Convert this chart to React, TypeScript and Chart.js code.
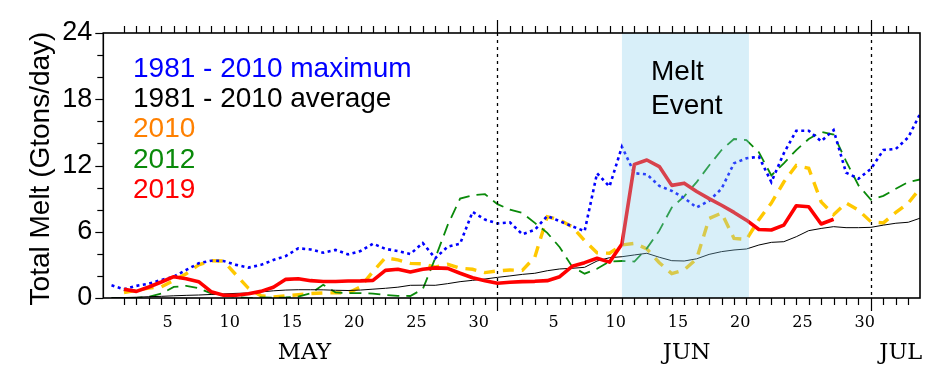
import React, { useEffect, useRef } from "react";
import { Chart, registerables } from "chart.js";

Chart.register(...registerables);

// x value of the first array entry (day index; 0 = first plotted day of May)
const X_START = -1;
const X_MIN = -1.66;
const X_MAX = 63.94;

// 1981-2010 maximum
const max8110 = [
  1.15, 0.79, 1.1, 1.3, 1.63, 1.93, 2.54, 3.14, 3.38, 3.35, 3.0, 2.75, 3.0, 3.44, 3.8, 4.5,
  4.4, 4.1, 4.35, 3.95, 4.25, 4.92, 4.45, 4.25, 3.98, 4.98, 3.6, 4.65, 4.92, 7.8, 7.1, 6.75,
  6.85, 5.77, 6.18, 7.43, 6.95, 6.5, 6.05, 11.3, 10.1, 13.7, 11.3, 11.2, 10.15, 9.7, 9.05, 8.2,
  8.8, 9.9, 12.2, 12.65, 12.8, 10.5, 13.1, 15.15, 15.15, 14.2, 15.2, 11.35, 10.8, 11.7, 13.4,
  13.5, 14.55, 16.8,
];

// 1981-2010 average
const avg8110 = [
  0.02, 0.04, 0.07, 0.12, 0.15, 0.2, 0.24, 0.27, 0.32, 0.37, 0.42, 0.45, 0.55, 0.65, 0.72, 0.75,
  0.75, 0.74, 0.7, 0.68, 0.72, 0.8, 0.88, 0.98, 1.15, 1.16, 1.15, 1.3, 1.48, 1.6, 1.72, 1.87,
  2.0, 2.14, 2.24, 2.47, 2.63, 2.69, 2.78, 3.35, 3.65, 3.74, 3.9, 4.05, 3.69, 3.38, 3.35, 3.55,
  3.95, 4.2, 4.35, 4.44, 4.8, 5.04, 5.1, 5.55, 6.1, 6.3, 6.46, 6.37, 6.37, 6.4, 6.6, 6.77,
  6.86, 7.25,
];

// 2010
const melt2010 = [
  null, 0.5, 0.7, 0.9, 1.0, 1.6, 2.2, 3.0, 3.38, 3.35, 2.1, 0.88, 0.2, 0.1, 0.2, 0.3,
  0.4, 0.45, 0.48, 0.45, 1.0, 2.4, 3.65, 3.45, 3.14, 3.1, 2.8, 3.05, 2.7, 2.6, 2.3, 2.45,
  2.54, 2.5, 3.7, 7.36, 7.07, 6.46, 5.2, 4.1, 4.05, 4.8, 4.95, 4.45, 3.2, 2.2, 2.55, 3.55,
  7.2, 7.7, 5.4, 5.3, 7.1, 8.6, 10.5, 12.0, 11.75, 8.7, 7.55, 8.6, 7.95, 6.9, 6.8, 7.75,
  8.6, 10.0,
];

// 2012
const melt2012 = [
  0, 0, 0, 0.1, 0.4, 1.0, 1.1, 0.88, 0.42, 0.25, 0.1, 0, 0.05, 0.03, 0.05, 0.12,
  0.42, 1.2, 0.5, 0.45, 0.45, 0.4, 0.27, 0.2, 0.18, 0.8, 3.6, 6.6, 9.0, 9.3, 9.4, 8.5,
  8.0, 7.7, 6.8, 5.9, 4.6, 2.84, 2.2, 2.65, 3.3, 3.35, 3.3, 4.5, 6.1, 8.2, 9.2, 10.5,
  12.0, 13.4, 14.4, 14.3, 13.2, 11.1, 12.2, 13.4, 14.4, 15.05, 14.8, 12.4, 10.2, 8.9, 9.25, 9.9,
  10.5, 10.75,
];

// 2019
const melt2019 = [
  null, 0.79, 0.6, 1.0, 1.45, 1.93, 1.75, 1.48, 0.57, 0.25, 0.25, 0.38, 0.6, 0.98, 1.69, 1.75,
  1.57, 1.5, 1.5, 1.54, 1.55, 1.6, 2.5, 2.6, 2.35, 2.6, 2.73, 2.68, 2.24, 1.84, 1.57, 1.33,
  1.42, 1.48, 1.51, 1.57, 1.93, 2.87, 3.2, 3.6, 3.25, 4.9, 12.1, 12.5, 11.9, 10.2, 10.4, 9.65,
  9.0, 8.4, 7.75, 7.05, 6.2, 6.16, 6.6, 8.36, 8.27, 6.7, 7.13, null, null, null, null, null,
  null, null,
];

const yLabelValues = [0, 6, 12, 18, 24];
const yMinorStep = 2;
const dayTickLabels = [5, 10, 15, 20, 25, 30];
const monthNames = ["MAY", "JUN", "JUL"];
const monthOffsets = [0, 31, 61];
const monthLabelCenters = [14.5, 45.2, 62.4];
const monthBoundaries = [30, 60];
const meltEventRange = [40, 50.2];
const yTitle = "Total Melt (Gtons/day)";
const legendTexts = ["1981 - 2010 maximum", "1981 - 2010 average", "2010", "2012", "2019"];
const legendColors = ["#0000ff", "#000000", "#ff8000", "#0a8a0a", "#ff0000"];

const toPts = (arr: (number | null)[]) => arr.map((v, i) => ({ x: i + X_START, y: v }));

const SANS = '"Liberation Sans", Arial, sans-serif';
const SERIF = '"DejaVu Serif", serif';

const decor = {
  id: "decor",
  afterDatasetsDraw(chart: any) {
    const { ctx, chartArea: a, scales } = chart;
    const xs = scales.x;
    const ys = scales.y;
    ctx.save();

    // melt event shading
    const sx0 = xs.getPixelForValue(meltEventRange[0]);
    const sx1 = xs.getPixelForValue(meltEventRange[1]);
    ctx.fillStyle = "rgba(135,206,235,0.32)";
    ctx.fillRect(sx0, a.top, sx1 - sx0, a.bottom - a.top);

    // month boundary dashed lines
    ctx.strokeStyle = "#000";
    ctx.lineWidth = 1.3;
    ctx.setLineDash([3, 4]);
    for (const b of monthBoundaries) {
      const px = Math.round(xs.getPixelForValue(b)) + 0.5;
      ctx.beginPath();
      ctx.moveTo(px, a.top);
      ctx.lineTo(px, a.bottom);
      ctx.stroke();
    }
    ctx.setLineDash([]);

    // frame
    ctx.lineWidth = 1.6;
    ctx.strokeRect(a.left, a.top, a.right - a.left, a.bottom - a.top);

    // x ticks
    ctx.lineWidth = 1.2;
    for (let k = 0; k <= Math.floor(X_MAX); k++) {
      const px = Math.round(xs.getPixelForValue(k)) + 0.5;
      const len = monthBoundaries.includes(k) ? 13 : 7;
      ctx.beginPath();
      ctx.moveTo(px, a.bottom);
      ctx.lineTo(px, a.bottom + len);
      ctx.moveTo(px, a.top);
      ctx.lineTo(px, a.top - len);
      ctx.stroke();
    }

    // y ticks
    for (let v = 0; v <= 24; v += yMinorStep) {
      const py = Math.round(ys.getPixelForValue(v)) + 0.5;
      const len = yLabelValues.includes(v) ? 8 : 6;
      ctx.beginPath();
      ctx.moveTo(a.left - len, py);
      ctx.lineTo(a.left, py);
      ctx.stroke();
    }

    // y labels
    ctx.fillStyle = "#000";
    ctx.font = `27px ${SANS}`;
    ctx.textAlign = "right";
    ctx.textBaseline = "middle";
    for (const v of yLabelValues) {
      ctx.fillText(String(v), a.left - 11, ys.getPixelForValue(v));
    }

    // y title
    ctx.save();
    ctx.translate(41.7, (a.top + a.bottom) / 2 + 3);
    ctx.rotate(-Math.PI / 2);
    ctx.font = `28px ${SANS}`;
    ctx.textAlign = "center";
    ctx.textBaseline = "middle";
    ctx.fillText(yTitle, 0, 0);
    ctx.restore();

    // x day labels
    ctx.font = `16px ${SERIF}`;
    ctx.textAlign = "center";
    ctx.textBaseline = "middle";
    for (let m = 0; m < 2; m++) {
      for (const d of dayTickLabels) {
        ctx.fillText(String(d), xs.getPixelForValue(monthOffsets[m] + d - 1.5), a.bottom + 25);
      }
    }

    // month names
    ctx.font = `22.5px ${SERIF}`;
    for (let m = 0; m < monthNames.length; m++) {
      ctx.fillText(monthNames[m], xs.getPixelForValue(monthLabelCenters[m]), a.bottom + 55);
    }

    // legend text
    ctx.font = `28px ${SANS}`;
    ctx.textAlign = "left";
    ctx.textBaseline = "alphabetic";
    for (let i = 0; i < legendTexts.length; i++) {
      ctx.fillStyle = legendColors[i];
      ctx.fillText(legendTexts[i], 133, 76.5 + 30.4 * i);
    }

    // melt event label
    ctx.fillStyle = "#000";
    ctx.fillText("Melt", 651, 80);
    ctx.fillText("Event", 651, 114);

    ctx.restore();
  },
};

export default function App() {
  const ref = useRef<HTMLCanvasElement | null>(null);

  useEffect(() => {
    if (!ref.current) return;
    const chart = new Chart(ref.current, {
      type: "line",
      data: {
        datasets: [
          {
            label: "2019",
            data: toPts(melt2019) as any,
            borderColor: "#ff0000",
            borderWidth: 3.6,
            borderJoinStyle: "round",
            pointRadius: 0,
            order: 0,
          },
          {
            label: "1981 - 2010 maximum",
            data: toPts(max8110) as any,
            borderColor: "#0000ff",
            borderWidth: 2.6,
            borderDash: [3, 3.5],
            pointRadius: 0,
            order: 1,
          },
          {
            label: "1981 - 2010 average",
            data: toPts(avg8110) as any,
            borderColor: "#000000",
            borderWidth: 1,
            pointRadius: 0,
            order: 2,
          },
          {
            label: "2012",
            data: toPts(melt2012) as any,
            borderColor: "#0a8a0a",
            borderWidth: 1.8,
            borderDash: [12, 7],
            pointRadius: 0,
            order: 3,
          },
          {
            label: "2010",
            data: toPts(melt2010) as any,
            borderColor: "#ffc800",
            borderWidth: 3.4,
            borderDash: [11, 8],
            pointRadius: 0,
            order: 4,
          },
        ],
      },
      options: {
        animation: false,
        responsive: false,
        devicePixelRatio: 1,
        layout: { padding: { left: 103.3, right: 26, top: 33, bottom: 84 } },
        parsing: true,
        spanGaps: false,
        elements: { line: { tension: 0, fill: false } },
        plugins: { legend: { display: false }, tooltip: { enabled: false }, title: { display: false } },
        scales: {
          x: { type: "linear", min: X_MIN, max: X_MAX, display: false },
          y: { type: "linear", min: 0, max: 24, display: false },
        },
      },
      plugins: [decor],
    });
    return () => chart.destroy();
  }, []);

  return (
    <div style={{ position: "fixed", left: 0, top: 0, width: 946, height: 382, background: "#fff" }}>
      <canvas ref={ref} width={946} height={382} style={{ display: "block", width: 946, height: 382 }} />
    </div>
  );
}
